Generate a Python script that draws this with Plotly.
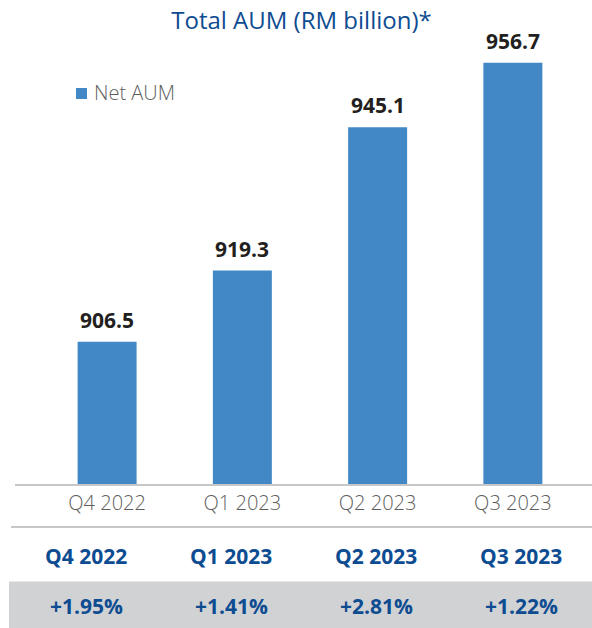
import plotly.graph_objects as go

# Data
quarters = ["Q4 2022", "Q1 2023", "Q2 2023", "Q3 2023"]
net_aum = [906.5, 919.3, 945.1, 956.7]
qoq_change = ["+1.95%", "+1.41%", "+2.81%", "+1.22%"]

# Canvas and plot-area geometry (pixels)
W, H = 592, 628
L, R, T, B = 15, 0, 40, 144
plot_w = W - L - R
plot_h = H - T - B


def px_x(x):
    return (x - L) / plot_w


def px_y(y):
    return (H - B - y) / plot_h


BAR_COLOR = "#4288C6"
DARK_BLUE = "#0E4C92"
GREY_TEXT = "#5E5E5E"
LABEL_TEXT = "#231F20"
LINE_GREY = "#C8C8C8"
BAND_GREY = "#D1D2D4"
FONT = "Open Sans, Noto Sans, sans-serif"

fig = go.Figure(
    go.Bar(
        x=quarters,
        y=net_aum,
        width=0.436,
        marker=dict(color=BAR_COLOR, line=dict(width=0)),
        name="Net AUM",
        showlegend=False,
        hoverinfo="x+y",
    )
)

annotations = []

# Value labels above bars
for q, v in zip(quarters, net_aum):
    annotations.append(dict(
        x=q, y=v, xref="x", yref="y", text=f"{v:.1f}",
        showarrow=False, yanchor="bottom", yshift=6,
        font=dict(family=FONT, size=21, color=LABEL_TEXT, weight="bold"),
    ))

# Legend entry
annotations.append(dict(
    x=px_x(92), y=px_y(92.5), xref="paper", yref="paper", text="Net AUM",
    showarrow=False, xanchor="left", yanchor="middle",
    font=dict(family=FONT, size=20, color=GREY_TEXT, weight=300),
))

# Quarter-on-quarter table below the chart
table_cols = [86, 231, 376, 521]
for cx, q, pct in zip(table_cols, quarters, qoq_change):
    annotations.append(dict(
        x=px_x(cx), y=px_y(555.5), xref="paper", yref="paper", text=q,
        showarrow=False, xanchor="center", yanchor="middle",
        font=dict(family=FONT, size=21, color=DARK_BLUE, weight="bold"),
    ))
    annotations.append(dict(
        x=px_x(cx), y=px_y(606), xref="paper", yref="paper", text=pct,
        showarrow=False, xanchor="center", yanchor="middle",
        font=dict(family=FONT, size=21, color=DARK_BLUE, weight="bold"),
    ))

shapes = [
    # legend swatch
    dict(type="rect", xref="paper", yref="paper",
         x0=px_x(76), x1=px_x(87), y0=px_y(99), y1=px_y(88),
         fillcolor=BAR_COLOR, line=dict(width=0)),
    # table separator
    dict(type="line", xref="paper", yref="paper",
         x0=px_x(11), x1=px_x(592), y0=px_y(527), y1=px_y(527),
         line=dict(color=LINE_GREY, width=2)),
    # shaded row
    dict(type="rect", xref="paper", yref="paper",
         x0=px_x(9), x1=px_x(592), y0=px_y(628), y1=px_y(581.5),
         fillcolor=BAND_GREY, line=dict(width=0), layer="below"),
]

fig.update_layout(
    width=W, height=H,
    margin=dict(l=L, r=R, t=T, b=B, pad=0),
    paper_bgcolor="white", plot_bgcolor="white",
    title=dict(
        text="Total AUM (RM billion)*",
        x=301.5 / W, xref="container", xanchor="center",
        y=1 - 21 / H, yref="container", yanchor="middle",
        font=dict(family=FONT, size=24, color=DARK_BLUE),
    ),
    xaxis=dict(
        type="category",
        range=[-0.681, 3.585],
        showline=True, linecolor=LINE_GREY, linewidth=2,
        showgrid=False, zeroline=False, ticks="",
        tickfont=dict(family=FONT, size=20, color=GREY_TEXT, weight=300),
    ),
    yaxis=dict(
        range=[880.9, 960.8],
        visible=False, showgrid=False, zeroline=False,
    ),
    bargap=0.5,
    annotations=annotations,
    shapes=shapes,
    showlegend=False,
)

fig.write_html("out.html")
